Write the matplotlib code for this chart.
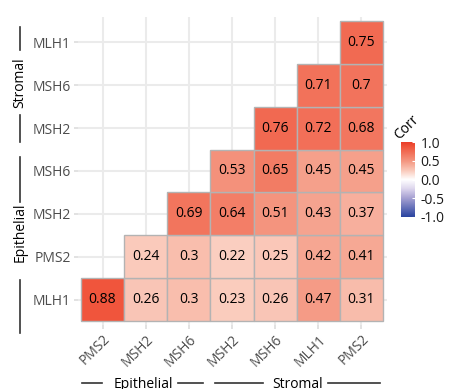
import matplotlib.pyplot as plt
import numpy as np
from matplotlib.colors import LinearSegmentedColormap
from matplotlib.lines import Line2D

plt.rcParams['font.family'] = ['Open Sans', 'DejaVu Sans']

# genes along x (left -> right) and y (bottom -> top)
x_genes = ['PMS2', 'MSH2', 'MSH6', 'MSH2', 'MSH6', 'MLH1', 'PMS2']
y_genes = ['MLH1', 'PMS2', 'MSH2', 'MSH6', 'MSH2', 'MSH6', 'MLH1']

# correlation rows, bottom row first; None = not shown
corr_rows = [
    [0.88, 0.26, 0.30, 0.23, 0.26, 0.47, 0.31],
    [None, 0.24, 0.30, 0.22, 0.25, 0.42, 0.41],
    [None, None, 0.69, 0.64, 0.51, 0.43, 0.37],
    [None, None, None, 0.53, 0.65, 0.45, 0.45],
    [None, None, None, None, 0.76, 0.72, 0.68],
    [None, None, None, None, None, 0.71, 0.70],
    [None, None, None, None, None, None, 0.75],
]

W, H = 450, 389
fig = plt.figure(figsize=(W / 100, H / 100), dpi=100)

def fx(px):
    return px / W

def fy(py):
    return 1 - py / H

# blue - white - red gradient, perceptual-ish (saturates quickly away from 0)
cmap = LinearSegmentedColormap.from_list('corr', [
    (0.00, (42 / 255, 68 / 255, 160 / 255)),
    (0.25, (165 / 255, 160 / 255, 210 / 255)),
    (0.38, (222 / 255, 215 / 255, 238 / 255)),
    (0.50, (1.0, 1.0, 1.0)),
    (0.62, (250 / 255, 202 / 255, 187 / 255)),
    (0.75, (244 / 255, 150 / 255, 128 / 255)),
    (0.94, (240 / 255, 85 / 255, 60 / 255)),
    (1.00, (234 / 255, 62 / 255, 42 / 255)),
])

ax = fig.add_axes([fx(77.5), fy(325), fx(386.5) - fx(77.5), fy(17) - fy(325)])
ax.set_xlim(-0.58, 6.58)
ax.set_ylim(-0.59, 6.59)
for s in ax.spines.values():
    s.set_visible(False)

ax.set_xticks(range(len(x_genes)))
ax.set_xticklabels(x_genes, rotation=45, ha='right', va='top', rotation_mode='anchor')
ax.set_yticks(range(len(y_genes)))
ax.set_yticklabels(y_genes)
ax.tick_params(axis='both', colors='#dddddd', length=3, width=1.2, labelsize=10,
               labelcolor='#4d4d4d', pad=2)
ax.grid(True, color='#ebebeb', linewidth=1.5)
ax.set_axisbelow(True)

for r, row in enumerate(corr_rows):
    for c, v in enumerate(row):
        if v is None:
            continue
        ax.add_patch(plt.Rectangle((c - 0.5, r - 0.5), 1, 1, facecolor=cmap((v + 1) / 2),
                                   edgecolor='#b3b3b3', linewidth=1, zorder=2))
        ax.text(c, r, f'{v:g}', ha='center', va='center', fontsize=10, color='black', zorder=3)

# colour bar
cax = fig.add_axes([fx(401), fy(217), fx(415) - fx(401), fy(142) - fy(217)])
grad = np.linspace(-1, 1, 200).reshape(-1, 1)
cax.imshow(grad, cmap=cmap, vmin=-1, vmax=1, aspect='auto', origin='lower',
           extent=[0, 1, -1, 1])
cax.set_xticks([])
cax.yaxis.tick_right()
cax.set_yticks([-1, -0.5, 0, 0.5, 1])
cax.set_yticklabels(['-1.0', '-0.5', '0.0', '0.5', '1.0'])
cax.tick_params(axis='y', direction='in', colors='white', length=2.5, width=0.8,
                labelcolor='#1a1a1a', labelsize=10, pad=4)
for s in cax.spines.values():
    s.set_visible(False)
fig.text(fx(407), fy(128), 'Corr', rotation=45, ha='center', va='center', fontsize=10)

# group brackets
def seg(x0, y0, x1, y1):
    fig.add_artist(Line2D([fx(x0), fx(x1)], [fy(y0), fy(y1)], color='#333333', linewidth=1.2))

seg(20, 27, 20, 50)
seg(20, 115, 20, 142)
fig.text(fx(20), fy(83), 'Stromal', rotation=90, ha='center', va='center', fontsize=10)
seg(20, 157, 20, 202)
seg(20, 280, 20, 333)
fig.text(fx(20), fy(232), 'Epithelial', rotation=90, ha='center', va='center', fontsize=10)

seg(82, 383, 102, 383)
seg(178, 383, 203, 383)
fig.text(fx(143), fy(384), 'Epithelial', ha='center', va='center', fontsize=10)
seg(215, 383, 263, 383)
seg(328, 383, 380, 383)
fig.text(fx(298), fy(384), 'Stromal', ha='center', va='center', fontsize=10)

fig.savefig('out.png', dpi=100)
